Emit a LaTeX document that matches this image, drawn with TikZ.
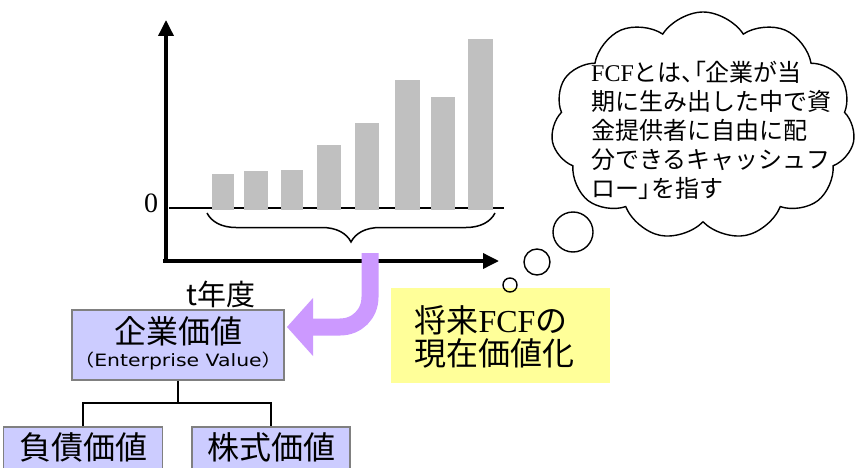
\documentclass[tikz,border=0pt]{standalone}
\usepackage{fontspec}
\setmainfont{Noto Sans CJK JP}
\newfontfamily\serifl{Liberation Serif}
\newfontfamily\wides{DejaVu Sans}
\newfontfamily\cjkp[RawFeature=+palt]{Noto Sans CJK JP}
\usetikzlibrary{arrows.meta,shapes.symbols,decorations.pathreplacing}
\definecolor{barg}{HTML}{C0C0C0}
\definecolor{purp}{HTML}{CC99FF}
\definecolor{yel}{HTML}{FFFF99}
\definecolor{blu}{HTML}{CCCCFF}
\definecolor{bord}{HTML}{808080}
\begin{document}
\begin{tikzpicture}[x=1pt,y=-1pt,
  bar/.style={fill=barg,draw=none},
  axis/.style={line width=3.5pt,-{Triangle[length=16pt,width=15pt]}},
  bluebox/.style={draw=bord,line width=1.5pt,fill=blu,inner sep=0pt},
  treeline/.style={line width=1.5pt},
  bubble/.style={draw,line width=1.4pt,circle,inner sep=0pt},
  big/.style={font=\fontsize{32}{33}\selectfont}]
\useasboundingbox (0,0) rectangle (856,468);
\clip (0,0) rectangle (856,468);
\fill[white] (0,0) rectangle (856,468);
% axes
\coordinate (origin) at (166,261);
\coordinate (ytop) at (166,20);
\coordinate (xend) at (499,261);
\draw[axis] (166,263) -- (ytop);
\draw[axis] (163,261) -- (xend);
% zero line
\coordinate (z0) at (169,208);
\coordinate (z1) at (504,208);
\draw[line width=1.5pt] (z0) -- (z1);
\node[font=\serifl\fontsize{28}{28}\selectfont] (zero) at (151,203) {0};
% bars
\fill[bar] (212,174) rectangle (234,210);
\fill[bar] (244,171) rectangle (268,210);
\fill[bar] (281,170) rectangle (303,210);
\fill[bar] (317,145) rectangle (341,210);
\fill[bar] (355,123) rectangle (379,210);
\fill[bar] (395,80) rectangle (420,210);
\fill[bar] (431,97) rectangle (455,210);
\fill[bar] (468,39) rectangle (493,210);
% brace
\coordinate (b0) at (207,213);
\coordinate (b1) at (495,213);
\draw[line width=1.5pt,decorate,decoration={brace,mirror,amplitude=29pt}] (b0) -- (b1);
% t year label
\node[font=\fontsize{29}{29}\selectfont] (tyear) at (221,294) {t年度};
% enterprise value box
\node[bluebox,minimum width=212pt,minimum height=70pt] (ev) at (178,345) {};
\node[font=\fontsize{32}{32}\selectfont] (evt) at (178,331) {企業価値};
\node[font=\fontsize{17}{17}\selectfont] (evs) at (178,361) {\scalebox{1.2}[1]{（{\wides Enterprise Value}）}};
% bottom boxes
\node[bluebox,minimum width=159pt,minimum height=60pt] (debt) at (83,457) {};
\node[big] at (83,447) {負債価値};
\node[bluebox,minimum width=158pt,minimum height=60pt] (equity) at (271,457) {};
\node[big] at (271,447) {株式価値};
% tree
\coordinate (tj) at (178,403);
\draw[treeline] (ev.south) -- (tj);
\draw[treeline] (debt.north) |- (tj) -| (equity.north);
% yellow box
\node[fill=yel,minimum width=219pt,minimum height=95pt,inner sep=0pt] (yb) at (500.5,335.5) {};
\node[big,anchor=west] (y1) at (411,320) {将来{\serifl FCF}の};
\node[big,anchor=west] (y2) at (411,353) {現在価値化};
% purple arrow
\coordinate (pstart) at (370,253);
\coordinate (ptip) at (287,327);
\draw[purp,line width=17pt] (pstart) -- (370,297) .. controls (370,314) and (357,327) .. (340,327) -- (311,327);
\fill[purp] (313,298) -- (ptip) -- (313,356) -- cycle;
% thought bubbles
\node[bubble,minimum size=14pt] (c1) at (510,285) {};
\node[bubble,minimum size=26pt] (c2) at (537,262) {};
\node[bubble,minimum size=40pt] (c3) at (573,232) {};
% cloud
\node[cloud,draw,line width=1.4pt,cloud puffs=11,cloud puff arc=115,cloud ignores aspect,
  minimum width=304pt,minimum height=228pt,inner sep=0pt,fill=white] (cloud) at (703,126) {};
\node[anchor=north west,align=left,inner sep=0pt,font=\fontsize{24}{29}\selectfont] (ctext) at (591,61)
 {{\serifl FCF}とは{\cjkp 、「}企業が当\\
  期に生み出した中で資\\
  金提供者に自由に配\\
  分できるキャッシュフ\\
  ロー{\cjkp 」}を指す};
\end{tikzpicture}
\end{document}
